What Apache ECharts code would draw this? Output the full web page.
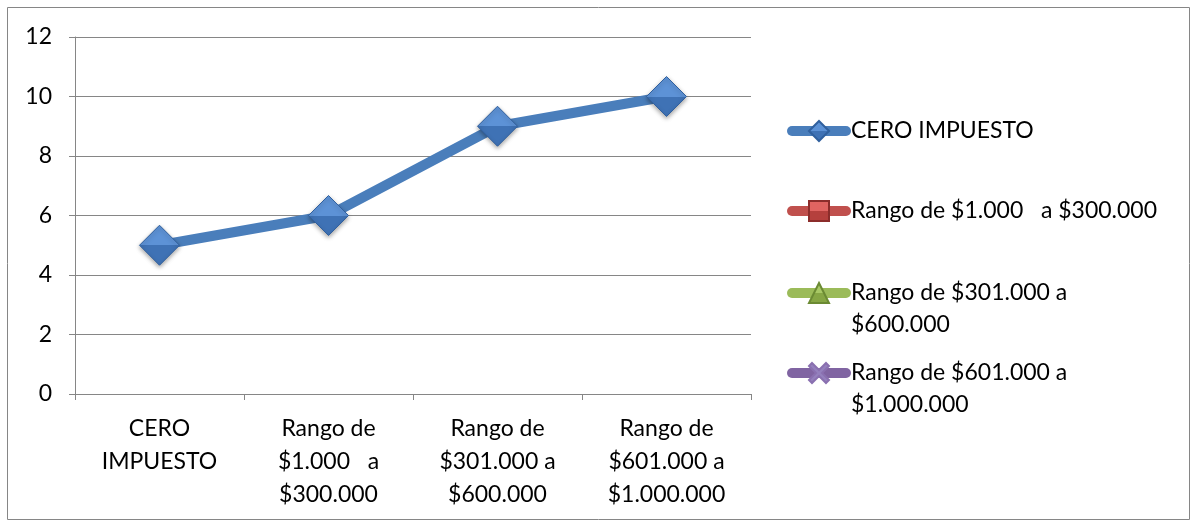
<!DOCTYPE html>
<html>
<head>
<meta charset="utf-8">
<script src="https://cdn.jsdelivr.net/npm/echarts@6/dist/echarts.min.js"></script>
<style>
  html, body { margin: 0; padding: 0; background: #fff; }
  #chart { width: 1197px; height: 523px; }
</style>
</head>
<body>
<div id="chart"></div>
<script>
// Categories (tax brackets) and series values
const categories = [
  'CERO\nIMPUESTO',
  'Rango de\n$1.000   a\n$300.000',
  'Rango de\n$301.000 a\n$600.000',
  'Rango de\n$601.000 a\n$1.000.000'
];
const seriesNames = [
  'CERO IMPUESTO',
  'Rango de $1.000   a $300.000',
  'Rango de $301.000 a $600.000',
  'Rango de $601.000 a $1.000.000'
];
const ceroImpuesto = [5, 6, 9, 10];
const rango1 = [null, null, null, null];
const rango2 = [null, null, null, null];
const rango3 = [null, null, null, null];
const yTicks = { min: 0, max: 12, interval: 2 };

const FONT = 'Lato';
const AXIS_GREY = '#868686';

function grad(top, bottom) {
  return new echarts.graphic.LinearGradient(0, 0, 0, 1, [
    { offset: 0, color: top }, { offset: 0.5, color: top },
    { offset: 0.5, color: bottom }, { offset: 1, color: bottom }
  ]);
}

const xPath = 'path://M1.5,0 L5,3.5 L8.5,0 L10,1.5 L6.5,5 L10,8.5 L8.5,10 L5,6.5 L1.5,10 L0,8.5 L3.5,5 L0,1.5 Z';

const styles = [
  { line: '#4a7ebb', symbol: 'diamond', fill: grad('#5d92d6', '#3f72b5'), border: '#30609e' },
  { line: '#c0504d', symbol: 'rect', fill: grad('#e06461', '#b5403d'), border: '#8c2d2b' },
  { line: '#9bbb59', symbol: 'triangle', fill: grad('#a8c865', '#86a644'), border: '#6b8a33' },
  { line: '#8064a2', symbol: xPath, fill: '#9480bd', border: '#8a70b0' }
];
const values = [ceroImpuesto, rango1, rango2, rango3];

const series = seriesNames.map((name, i) => ({
  name: name,
  type: 'line',
  data: values[i],
  symbol: styles[i].symbol,
  symbolSize: 40,
  showAllSymbol: true,
  lineStyle: { color: styles[i].line, width: 10, cap: 'round', join: 'round' },
  itemStyle: {
    color: styles[i].fill,
    borderColor: styles[i].border,
    borderWidth: 1,
    shadowBlur: 4,
    shadowOffsetY: 2,
    shadowColor: 'rgba(0,0,0,0.35)'
  },
  emphasis: { disabled: true },
  z: 3
}));

// Legend labels; long names wrap onto a second line.
// A leading blank line keeps the icon beside the first text line.
const legendText = [
  'CERO IMPUESTO',
  'Rango de $1.000   a $300.000',
  ' \nRango de $301.000 a\n$600.000',
  ' \nRango de $601.000 a\n$1.000.000'
];
const legendTops = [115, 195, 245, 325];

const legends = seriesNames.map((name, i) => ({
  data: [name],
  orient: 'vertical',
  left: 787,
  top: legendTops[i],
  padding: 0,
  itemWidth: 54,
  itemHeight: 25,
  selectedMode: false,
  formatter: () => legendText[i],
  lineStyle: { width: 10, cap: 'round' },
  textStyle: {
    fontFamily: FONT,
    fontSize: 23,
    color: '#000',
    lineHeight: 32
  }
}));

const chart = echarts.init(document.getElementById('chart'), null, { renderer: 'canvas' });
chart.setOption({
  animation: false,
  backgroundColor: '#fff',
  grid: { left: 75, top: 37, right: 446, bottom: 129, containLabel: false },
  legend: legends,
  xAxis: {
    type: 'category',
    data: categories,
    boundaryGap: true,
    axisLine: { lineStyle: { color: AXIS_GREY, width: 1 } },
    axisTick: { show: true, length: 6, alignWithLabel: false, lineStyle: { color: AXIS_GREY } },
    axisLabel: {
      interval: 0,
      margin: 18,
      fontFamily: FONT,
      fontSize: 23,
      lineHeight: 33,
      color: '#000',
      align: 'center'
    },
    splitLine: { show: false }
  },
  yAxis: {
    type: 'value',
    min: yTicks.min,
    max: yTicks.max,
    interval: yTicks.interval,
    axisLine: { show: true, lineStyle: { color: AXIS_GREY, width: 1 } },
    axisTick: { show: true, length: 6, lineStyle: { color: AXIS_GREY } },
    axisLabel: { margin: 23, fontFamily: FONT, fontSize: 23, color: '#000' },
    splitLine: { show: true, lineStyle: { color: AXIS_GREY, width: 1 } }
  },
  graphic: [{
    type: 'rect',
    shape: { x: 7.5, y: 7.5, width: 1182, height: 512 },
    style: { fill: null, stroke: AXIS_GREY, lineWidth: 1 },
    silent: true,
    z: -1
  }],
  series: series
});
</script>
</body>
</html>
